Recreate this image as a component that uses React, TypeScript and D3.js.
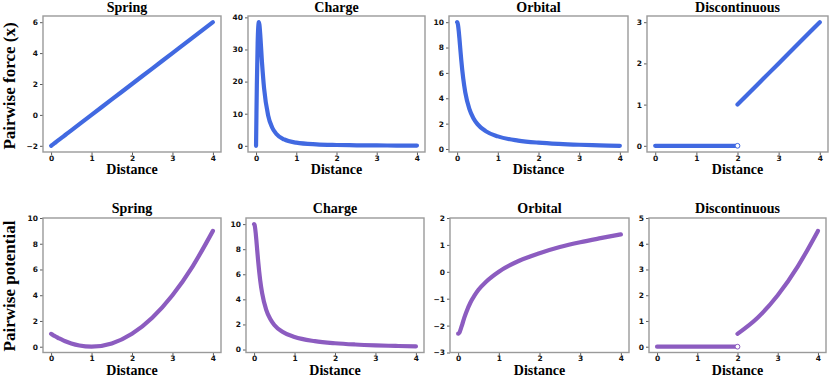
import React, { useEffect, useRef } from "react";
import * as d3 from "d3";

// distances sampled along each curve
const dist = [0, 0.01, 0.02, 0.04, 0.055, 0.07, 0.085, 0.1, 0.15, 0.2, 0.3, 0.4, 0.5, 0.7, 1, 1.5, 2, 2.5, 3, 3.5, 4];

const springForce = [-2, -1.98, -1.96, -1.92, -1.89, -1.86, -1.83, -1.8, -1.7, -1.6, -1.4, -1.2, -1, -0.6, 0, 1, 2, 3, 4, 5, 6];
const chargeForce = [0, 9.85, 18.9, 32.0, 37.0, 38.5, 37.6, 35.4, 25.6, 17.9, 9.49, 5.71, 3.77, 1.98, 0.985, 0.44, 0.249, 0.16, 0.111, 0.082, 0.0625];
const orbitalForce = [10, 9.95, 9.81, 9.28, 8.76, 8.19, 7.62, 7.07, 5.55, 4.47, 3.16, 2.43, 1.96, 1.41, 0.995, 0.665, 0.499, 0.4, 0.333, 0.286, 0.25];

const springPot = [1, 0.98, 0.96, 0.92, 0.89, 0.86, 0.84, 0.81, 0.72, 0.64, 0.49, 0.36, 0.25, 0.09, 0, 0.25, 1, 2.25, 4, 6.25, 9];
const chargePot = [10, 9.95, 9.81, 9.28, 8.76, 8.19, 7.62, 7.07, 5.55, 4.47, 3.16, 2.43, 1.96, 1.41, 0.995, 0.665, 0.499, 0.4, 0.333, 0.286, 0.25];
const orbitalPot = [-2.3, -2.3, -2.28, -2.23, -2.17, -2.1, -2.03, -1.96, -1.71, -1.5, -1.15, -0.89, -0.67, -0.35, 0.005, 0.41, 0.69, 0.92, 1.1, 1.25, 1.39];

// discontinuous: flat part then jump at 2
const discLowX = [0, 2];
const discLowForce = [0, 0];
const discHighX = [2, 2.5, 3, 3.5, 4];
const discHighForce = [1, 1.5, 2, 2.5, 3];
const discLowPot = [0, 0];
const discHighPot = [0.5, 1.125, 2, 3.125, 4.5];

const titles = ["Spring", "Charge", "Orbital", "Discontinuous"];
const rowLabels = ["Pairwise force (x)", "Pairwise potential"];
const xTicks = [0, 1, 2, 3, 4];

const BLUE = "#4169e1";
const PURPLE = "#8c5cc0";

type Seg = { x: number[]; y: number[] };
type Panel = {
  title: string;
  box: [number, number, number, number];
  yDomain: [number, number];
  yTicks: number[];
  color: string;
  segs: Seg[];
  open?: [number, number];
  titleX?: number;
};

const pad = (lo: number, hi: number): [number, number] => {
  const m = (hi - lo) * 0.05;
  return [lo - m, hi + m];
};

const panels: Panel[] = [
  { title: titles[0], box: [43, 221, 16, 152], yDomain: pad(-2, 6), yTicks: [-2, 0, 2, 4, 6], color: BLUE, segs: [{ x: dist, y: springForce }], titleX: 127 },
  { title: titles[1], box: [248, 425, 16, 152], yDomain: pad(0, 38.5), yTicks: [0, 10, 20, 30, 40], color: BLUE, segs: [{ x: dist, y: chargeForce }] },
  { title: titles[2], box: [449, 628, 16, 152], yDomain: pad(0.25, 10), yTicks: [0, 2, 4, 6, 8, 10], color: BLUE, segs: [{ x: dist, y: orbitalForce }] },
  { title: titles[3], box: [647, 828, 16, 152], yDomain: pad(0, 3), yTicks: [0, 1, 2, 3], color: BLUE, segs: [{ x: discLowX, y: discLowForce }, { x: discHighX, y: discHighForce }], open: [2, 0] },
  { title: titles[0], box: [43, 221, 218, 352.5], yDomain: [-0.45, 10], yTicks: [0, 2, 4, 6, 8, 10], color: PURPLE, segs: [{ x: dist, y: springPot }] },
  { title: titles[1], box: [246, 424, 218, 352.5], yDomain: pad(0.25, 10), yTicks: [0, 2, 4, 6, 8, 10], color: PURPLE, segs: [{ x: dist, y: chargePot }] },
  { title: titles[2], box: [450, 629, 218, 352.5], yDomain: [-3, 2], yTicks: [-3, -2, -1, 0, 1, 2], color: PURPLE, segs: [{ x: dist, y: orbitalPot }] },
  { title: titles[3], box: [649, 826, 218, 352.5], yDomain: [-0.225, 5], yTicks: [0, 1, 2, 3, 4, 5], color: PURPLE, segs: [{ x: discLowX, y: discLowPot }, { x: discHighX, y: discHighPot }], open: [2, 0] },
];

export default function App() {
  const ref = useRef<SVGSVGElement>(null);

  useEffect(() => {
    const svg = d3.select(ref.current);
    svg.selectAll("*").remove();

    panels.forEach((p, i) => {
      const [x0, x1, y0, y1] = p.box;
      const top = i < 4;
      const x = d3.scaleLinear().domain(pad(0, 4)).range([x0, x1]);
      const y = d3.scaleLinear().domain(p.yDomain).range([y1, y0]);
      const g = svg.append("g");

      const xa = g.append("g").attr("transform", `translate(0,${y1})`)
        .call(d3.axisBottom(x).tickValues(xTicks).tickSize(3).tickPadding(0.5).tickFormat(d3.format("d")));
      const ya = g.append("g").attr("transform", `translate(${x0},0)`)
        .call(d3.axisLeft(y).tickValues(p.yTicks).tickSize(3).tickPadding(2).tickFormat(d3.format("d")));
      [xa, ya].forEach((a) => {
        a.select(".domain").remove();
        a.selectAll("line").attr("stroke", "#333").attr("stroke-width", 0.8);
        a.selectAll("text")
          .attr("font-family", "DejaVu Sans")
          .attr("font-weight", "bold")
          .attr("font-size", 7.5)
          .attr("fill", "#111");
      });

      const gen = d3.line<[number, number]>()
        .x((d) => x(d[0]))
        .y((d) => y(d[1]))
        .curve(d3.curveMonotoneX);

      p.segs.forEach((s) => {
        const pts = s.x.map((v, k) => [v, s.y[k]] as [number, number]);
        g.append("path")
          .attr("d", gen(pts))
          .attr("fill", "none")
          .attr("stroke", p.color)
          .attr("stroke-width", 4.2)
          .attr("stroke-linecap", "round")
          .attr("stroke-linejoin", "round");
      });

      if (p.open) {
        g.append("circle")
          .attr("cx", x(p.open[0]))
          .attr("cy", y(p.open[1]))
          .attr("r", 2.4)
          .attr("fill", "white")
          .attr("stroke", p.color)
          .attr("stroke-width", 1);
      }

      g.append("rect")
        .attr("x", x0).attr("y", y0)
        .attr("width", x1 - x0).attr("height", y1 - y0)
        .attr("fill", "none")
        .attr("stroke", "#9a9a9a")
        .attr("stroke-width", 1.4);

      g.append("text")
        .attr("x", p.titleX ?? (x0 + x1) / 2)
        .attr("y", top ? 12 : 212.5)
        .attr("text-anchor", "middle")
        .attr("font-family", "Liberation Serif")
        .attr("font-weight", "bold")
        .attr("font-size", 14)
        .text(p.title);

      g.append("text")
        .attr("x", (x0 + x1) / 2)
        .attr("y", top ? 173.5 : 374.5)
        .attr("text-anchor", "middle")
        .attr("font-family", "Liberation Serif")
        .attr("font-weight", "bold")
        .attr("font-size", 14)
        .text("Distance");
    });

    rowLabels.forEach((label, r) => {
      const cy = r === 0 ? 86 : 286;
      svg.append("text")
        .attr("transform", `translate(15,${cy}) rotate(-90)`)
        .attr("text-anchor", "middle")
        .attr("font-family", "Liberation Serif")
        .attr("font-weight", "bold")
        .attr("font-size", 17)
        .text(label);
    });
  }, []);

  return (
    <svg
      ref={ref}
      width={830}
      height={376}
      style={{ position: "absolute", left: 0, top: 0, background: "white" }}
    />
  );
}
